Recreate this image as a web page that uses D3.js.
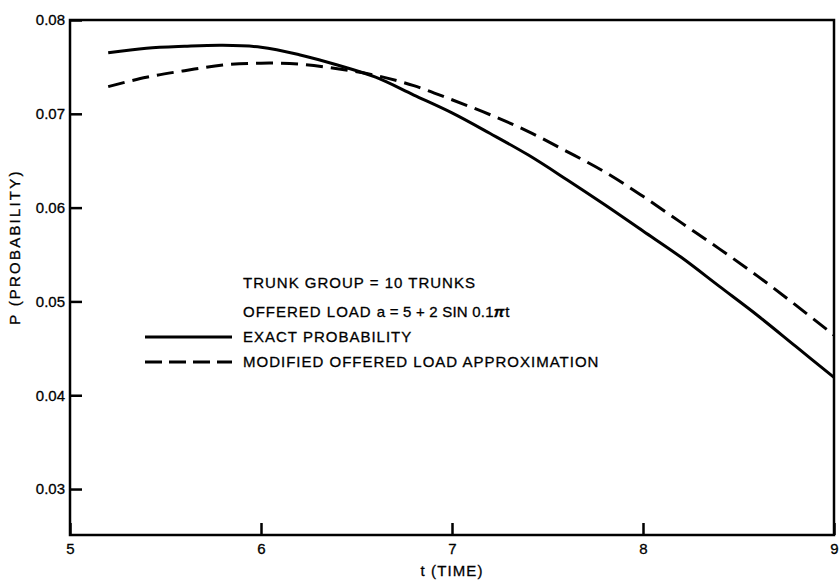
<!DOCTYPE html>
<html>
<head>
<meta charset="utf-8">
<script src="https://cdn.jsdelivr.net/npm/d3@7"></script>
<style>
  body { margin: 0; background: #fff; }
  svg text { font-family: "Liberation Sans", Arial, sans-serif; fill: #000; stroke: #000; stroke-width: 0.3px; }
</style>
</head>
<body>
<div id="Chart"></div>
<script>
// values
var tValues = [5.2, 5.4, 5.6, 5.8, 6.0, 6.2, 6.4, 6.6, 6.8, 7.0, 7.2, 7.4, 7.6, 7.8, 8.0, 8.2, 8.4, 8.6, 8.8, 9.0];
var exactProb = [0.0765, 0.0770, 0.0772, 0.0773, 0.0771, 0.0763, 0.0752, 0.0739, 0.0720, 0.0701,
                 0.0679, 0.0656, 0.0630, 0.0603, 0.0575, 0.0547, 0.0516, 0.0485, 0.0452, 0.0419];
var approxProb = [0.0729, 0.0739, 0.0746, 0.0752, 0.0754, 0.0753, 0.0748, 0.0741, 0.0730, 0.0715,
                  0.0699, 0.0681, 0.0660, 0.0638, 0.0612, 0.0584, 0.0556, 0.0527, 0.0496, 0.0464];
var xTicks = [5, 6, 7, 8, 9];
var yTicks = [0.03, 0.04, 0.05, 0.06, 0.07, 0.08];
var legendLines = ["TRUNK GROUP = 10 TRUNKS", "OFFERED LOAD"];
var seriesNames = ["EXACT PROBABILITY", "MODIFIED OFFERED LOAD APPROXIMATION"];

var width = 840, height = 582;
var margin = {top: 20, right: 6, bottom: 47, left: 70};

var svg = d3.select("#Chart")
            .append("svg")
            .attr("class", "chart")
            .attr("width", width)
            .attr("height", height);

var x = d3.scaleLinear()
          .domain([5, 9])
          .range([margin.left, width - margin.right]);
var y = d3.scaleLinear()
          .domain([0.0251, 0.08])
          .range([height - margin.bottom, margin.top]);

// axes with inward ticks
var xaxis = svg.append("g")
               .attr("transform", "translate(0," + (height - margin.bottom) + ")")
               .call(d3.axisBottom(x).tickValues(xTicks).tickSize(-12).tickPadding(8)
                       .tickFormat(d3.format("d")));
var yaxis = svg.append("g")
               .attr("transform", "translate(" + margin.left + ",0)")
               .call(d3.axisLeft(y).tickValues(yTicks).tickSize(-12).tickPadding(5)
                       .tickFormat(d3.format(".2f")));
svg.selectAll(".domain").remove();
svg.selectAll(".tick line").attr("stroke", "#000").attr("stroke-width", 2.5);
svg.selectAll(".tick text").style("font-size", "15px");

// frame
svg.append("rect")
   .attr("x", x(5))
   .attr("y", y(0.08))
   .attr("width", x(9) - x(5))
   .attr("height", y(0.0251) - y(0.08))
   .attr("fill", "none")
   .attr("stroke", "#000")
   .attr("stroke-width", 2.5);

// axis titles
svg.append("text")
   .attr("x", x(7))
   .attr("y", 576)
   .attr("text-anchor", "middle")
   .style("font-size", "15px")
   .style("letter-spacing", "1.1px")
   .text("t (TIME)");
svg.append("text")
   .attr("transform", "translate(20,247) rotate(-90)")
   .attr("text-anchor", "middle")
   .style("font-size", "15px")
   .style("letter-spacing", "2.2px")
   .text("P (PROBABILITY)");

// curves
var line = d3.line()
             .x(function(d) { return x(d[0]); })
             .y(function(d) { return y(d[1]); })
             .curve(d3.curveCatmullRom);
svg.append("path")
   .datum(d3.zip(tValues, exactProb))
   .attr("fill", "none")
   .attr("stroke", "#000")
   .attr("stroke-width", 3)
   .attr("d", line);
svg.append("path")
   .datum(d3.zip(tValues, approxProb))
   .attr("fill", "none")
   .attr("stroke", "#000")
   .attr("stroke-width", 3)
   .attr("stroke-dasharray", "17,8")
   .attr("d", line);

// legend block
var lx = 243;
svg.append("text")
   .attr("x", lx).attr("y", 288)
   .style("font-size", "15px")
   .style("letter-spacing", "1px")
   .text(legendLines[0]);
var load = svg.append("text")
   .attr("x", lx).attr("y", 317)
   .style("font-size", "15px")
   .style("letter-spacing", "1px");
load.append("tspan").text(legendLines[1] + " ");
load.append("tspan").style("letter-spacing", "0.2px").text("a = 5 + 2 SIN 0.1");
load.append("tspan").style("font-weight", "bold").style("font-style", "italic").text("\u03c0");
load.append("tspan").text("t");

svg.selectAll("legend_line")
   .data(seriesNames)
   .enter()
   .append("line")
   .attr("x1", 145).attr("x2", 232)
   .attr("y1", function(d, i) { return 337 + i * 25; })
   .attr("y2", function(d, i) { return 337 + i * 25; })
   .attr("stroke", "#000")
   .attr("stroke-width", 3)
   .attr("stroke-dasharray", function(d, i) { return i == 0 ? null : "17,7"; });
svg.selectAll("legend_label")
   .data(seriesNames)
   .enter()
   .append("text")
   .attr("x", lx)
   .attr("y", function(d, i) { return 342 + i * 25; })
   .style("font-size", "15px")
   .style("letter-spacing", "1px")
   .text(function(d) { return d; });
</script>
</body>
</html>
